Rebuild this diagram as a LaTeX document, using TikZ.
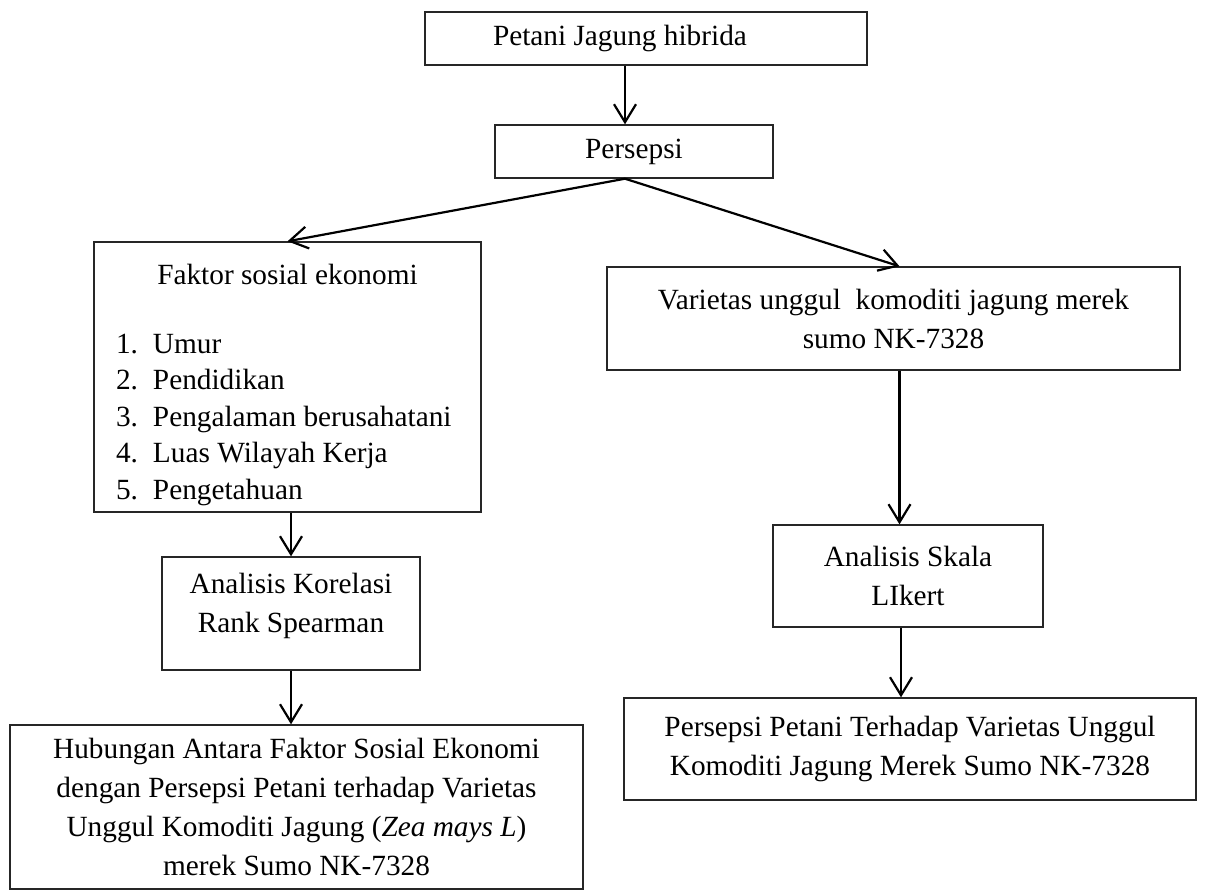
\documentclass[tikz,border=0pt]{standalone}
\usepackage{fontspec}
\setmainfont{Liberation Serif}
\usetikzlibrary{arrows.meta}

\tikzset{
    box/.style={draw=black!85, line width=0.7pt, inner sep=0pt, align=center,
        font=\fontsize{14.65}{19.5}\selectfont}
}

\begin{document}
\begin{tikzpicture}[
    x=0.5pt, y=-0.5pt,
    >={Straight Barb[length=9pt,width=11pt]},
    arr/.style={->, line width=1.1pt}
]
\useasboundingbox (0,0) rectangle (1205,891);

% Top
\node[box, minimum width=221pt, minimum height=26.5pt, inner xsep=34pt,
    text width=153pt, align=flush left] (petani) at (646,38.5) {Petani Jagung hibrida};
\node[box, minimum width=139pt, minimum height=26.5pt] (persepsi) at (634,151.5) {Persepsi};

% Left branch
\node[box, minimum width=193.5pt, minimum height=135pt, inner xsep=11pt,
    text width=171.5pt, align=flush left, text depth=102.7pt,
    font=\fontsize{14.65}{18.25}\selectfont]
    (faktor) at (287.5,377) {{\centering Faktor sosial ekonomi\par}
    \vspace{16.25pt}
    \makebox[18.5pt][l]{1.}Umur\\
    \makebox[18.5pt][l]{2.}Pendidikan\\
    \makebox[18.5pt][l]{3.}Pengalaman berusahatani\\
    \makebox[18.5pt][l]{4.}Luas Wilayah Kerja\\
    \makebox[18.5pt][l]{5.}Pengetahuan};
\node[box, minimum width=129pt, minimum height=56.5pt, text depth=11pt] (korelasi) at (291,613.5)
    {Analisis Korelasi\\Rank Spearman};
\node[box, minimum width=286.5pt, minimum height=82pt] (hasil1) at (296.5,807)
    {Hubungan Antara Faktor Sosial Ekonomi\\dengan Persepsi Petani terhadap Varietas\\
    Unggul Komoditi Jagung (\textit{Zea mays L})\\merek Sumo NK-7328};

% Right branch
\node[box, minimum width=286.5pt, minimum height=51.5pt] (varietas) at (893.5,318.5)
    {Varietas unggul\ \ komoditi jagung merek\\sumo NK-7328};
\node[box, minimum width=135pt, minimum height=51pt] (skala) at (908,576)
    {Analisis Skala\\LIkert};
\node[box, minimum width=286pt, minimum height=51pt] (hasil2) at (910,749)
    {Persepsi Petani Terhadap Varietas Unggul\\Komoditi Jagung Merek Sumo NK-7328};

% Arrows
\coordinate (p0) at ([xshift=-4.5pt]persepsi.south);
\draw[arr] (p0 |- petani.south) -- (p0 |- persepsi.north);
\draw[arr] (p0) -- (faktor.north);
\draw[arr] (p0) -- ([xshift=3pt]varietas.north);

\draw[arr] (korelasi.north |- faktor.south) -- (korelasi.north);
\draw[arr] (korelasi.south) -- (korelasi.south |- hasil1.north);

\coordinate (v0) at ([xshift=3pt]varietas.south);
\draw[arr] (v0) -- (v0 |- skala.north);
\coordinate (s0) at ([xshift=-3.5pt]skala.south);
\draw[arr] (s0) -- (s0 |- hasil2.north);

\end{tikzpicture}
\end{document}
